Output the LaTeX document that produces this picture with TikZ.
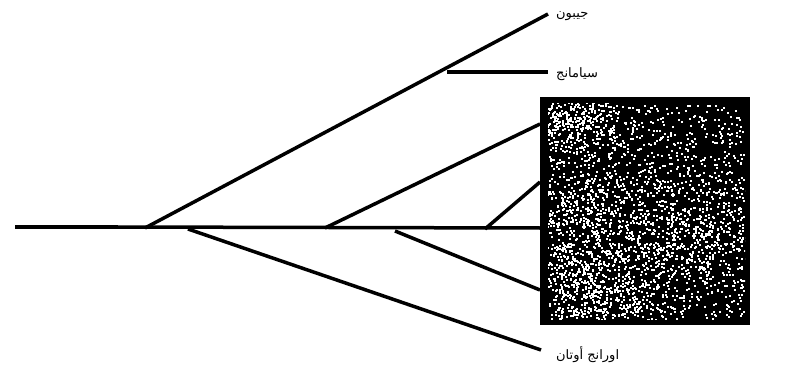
\documentclass[tikz,border=0pt]{standalone}
\usepackage{fontspec}
\newfontfamily\arabicfont[Script=Arabic]{DejaVu Sans}
\TeXXeTstate=1
\begin{document}
\begin{tikzpicture}[x=1pt,y=-1pt,
  br/.style={line width=3.5pt},
  lab/.style={anchor=west,inner sep=0pt,font=\arabicfont\fontsize{13}{14}\selectfont}]
\useasboundingbox (0,0) rectangle (790,377);
% coordinates
\coordinate (root) at (15,227);
\coordinate (k) at (118,227);
\coordinate (g0) at (145,228);
\coordinate (o0) at (188,229);
\coordinate (h1) at (325,228);
\coordinate (h2) at (395,231);
\coordinate (h3) at (485,229);
\coordinate (gib) at (548,14);
\coordinate (s0) at (447,72);
\coordinate (sia) at (548,72);
\coordinate (ora) at (541,350);
% box with texture
\fill[black] (540,97) rectangle (750,325);
\pgfmathsetseed{42}
\begin{scope}
\clip (548,104) rectangle (745,319);
\foreach \i in {1,...,1400}{
  \pgfmathsetmacro{\px}{548+rnd*195}
  \pgfmathsetmacro{\py}{104+rnd*214}
  \fill[white] (\px,\py) rectangle ++(2,2);
}
% lighter soft patches
\foreach \cx/\cy/\w/\h/\n in {575/120/70/45/400, 590/275/90/90/800, 700/235/90/70/350, 590/200/80/40/150}{
  \foreach \i in {1,...,\n}{
    \pgfmathsetmacro{\px}{\cx+(rnd+rnd-1)*\w}
    \pgfmathsetmacro{\py}{\cy+(rnd+rnd-1)*\h}
    \fill[white] (\px,\py) rectangle ++(2,2);
  }
}
\end{scope}
\node[inner sep=0pt,minimum width=210pt,minimum height=228pt] (box) at (645,211) {};
% branches
\draw[line width=4.5pt] (root) -- (k);
\draw[br] (k) -- (box.west |- h1);
\draw[br] (g0) -- (gib);
\draw[br] (s0) -- (sia);
\draw[br] (h1) -- (540,124);
\draw[br] (h3) -- (540,182);
\draw[br] (o0) -- (ora);
\draw[br] (h2) -- (540,290);
% labels
\node[lab] (lg) at (556,16) {\beginR جيبون\endR};
\node[lab] (ls) at (556,74) {\beginR سيامانج\endR};
\node[lab] (lo) at (556,355) {\beginR اورانج أوتان\endR};
\end{tikzpicture}
\end{document}
